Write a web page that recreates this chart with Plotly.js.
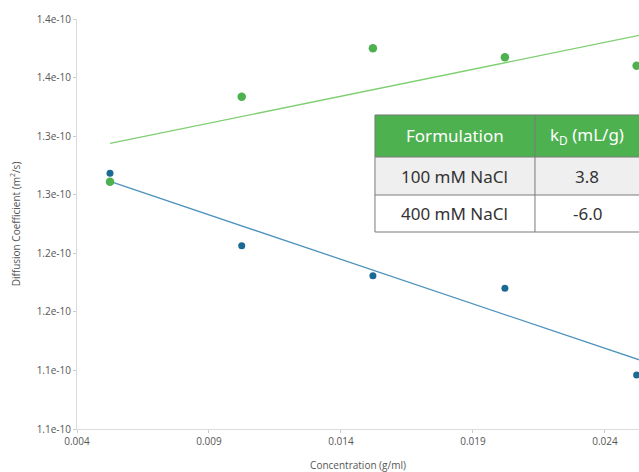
<!DOCTYPE html>
<html>
<head>
<meta charset="utf-8">
<script src="https://cdn.plot.ly/plotly-3.0.1.min.js"></script>
<style>html,body{margin:0;padding:0;background:#fff;}#chart{width:639px;height:472px;}</style>
</head>
<body>
<div id="chart"></div>
<script>
// Concentration (g/ml)
const concentration = [0.00525, 0.01024, 0.01521, 0.02021, 0.0252];
// Diffusion coefficients (m^2/s)
const diff100 = [1.3111e-10, 1.3837e-10, 1.4250e-10, 1.4173e-10, 1.4101e-10];
const diff400 = [1.3183e-10, 1.2565e-10, 1.2309e-10, 1.2201e-10, 1.1461e-10];
// Linear fit lines (read endpoints)
const fitX = [0.00525, 0.0253];
const fit100 = [1.3438e-10, 1.4360e-10];
const fit400 = [1.3113e-10, 1.1590e-10];
// Axis ticks
const yTickVals = [1.10e-10, 1.15e-10, 1.20e-10, 1.25e-10, 1.30e-10, 1.35e-10, 1.40e-10, 1.45e-10];
const yTickText = ['1.1e-10', '1.1e-10', '1.2e-10', '1.2e-10', '1.3e-10', '1.3e-10', '1.4e-10', '1.4e-10'];
const xTickVals = [0.004, 0.009, 0.014, 0.019, 0.024];
const xTickText = ['0.004', '0.009', '0.014', '0.019', '0.024'];
// Table contents
const tableHeader = ['Formulation', 'k<sub>D</sub> (mL/g)'];
const tableFormulation = ['100 mM NaCl', '400 mM NaCl'];
const tableKD = ['3.8', '-6.0'];

const green = '#4db14f';
const greenLine = '#7fcf72';
const blue = '#1b6a96';
const blueLine = '#4d93bd';

const traces = [
  {x: fitX, y: fit100, mode: 'lines', line: {color: greenLine, width: 1.3}, hoverinfo: 'skip'},
  {x: fitX, y: fit400, mode: 'lines', line: {color: blueLine, width: 1.3}, hoverinfo: 'skip'},
  {x: concentration, y: diff400, mode: 'markers', marker: {color: blue, size: 7}},
  {x: concentration, y: diff100, mode: 'markers', marker: {color: green, size: 8.5}}
];

// table geometry (paper coords)
const tx0 = 0.5302, tx1 = 0.8149, tx2 = 1.0;
const ty0 = 0.7659, ty1 = 0.6634, ty2 = 0.5707, ty3 = 0.4805;
const borderCol = '#7a7a7a';
const shapes = [
  {type: 'rect', xref: 'paper', yref: 'paper', x0: tx0, x1: tx2 + 0.02, y0: ty1, y1: ty0, fillcolor: green, line: {width: 0}, layer: 'above'},
  {type: 'rect', xref: 'paper', yref: 'paper', x0: tx0, x1: tx2 + 0.02, y0: ty2, y1: ty1, fillcolor: '#efefef', line: {width: 0}, layer: 'above'},
  {type: 'rect', xref: 'paper', yref: 'paper', x0: tx0, x1: tx2 + 0.02, y0: ty3, y1: ty2, fillcolor: '#ffffff', line: {width: 0}, layer: 'above'},
  {type: 'line', xref: 'paper', yref: 'paper', x0: tx0, x1: tx2 + 0.02, y0: ty0, y1: ty0, line: {color: borderCol, width: 1}, layer: 'above'},
  {type: 'line', xref: 'paper', yref: 'paper', x0: tx0, x1: tx2 + 0.02, y0: ty1, y1: ty1, line: {color: borderCol, width: 1}, layer: 'above'},
  {type: 'line', xref: 'paper', yref: 'paper', x0: tx0, x1: tx2 + 0.02, y0: ty2, y1: ty2, line: {color: borderCol, width: 1}, layer: 'above'},
  {type: 'line', xref: 'paper', yref: 'paper', x0: tx0, x1: tx2 + 0.02, y0: ty3, y1: ty3, line: {color: borderCol, width: 1.2}, layer: 'above'},
  {type: 'line', xref: 'paper', yref: 'paper', x0: tx0, x1: tx0, y0: ty3, y1: ty0, line: {color: borderCol, width: 1}, layer: 'above'},
  {type: 'line', xref: 'paper', yref: 'paper', x0: tx1, x1: tx1, y0: ty3, y1: ty0, line: {color: borderCol, width: 1}, layer: 'above'}
];
const tFont = '"Noto Sans", "Open Sans", sans-serif';
const c1 = (tx0 + tx1) / 2, c2 = 0.9075;
const rowsY = [(ty0 + ty1) / 2, (ty1 + ty2) / 2, (ty2 + ty3) / 2];
const annotations = [
  {text: tableHeader[0], x: c1, y: rowsY[0], font: {color: '#ffffff', size: 17, family: tFont}},
  {text: tableHeader[1], x: c2, y: rowsY[0], font: {color: '#ffffff', size: 17, family: tFont}},
  {text: tableFormulation[0], x: c1, y: rowsY[1], font: {color: '#333333', size: 17, family: tFont}},
  {text: tableKD[0], x: c2, y: rowsY[1], font: {color: '#333333', size: 17, family: tFont}},
  {text: tableFormulation[1], x: c1, y: rowsY[2], font: {color: '#333333', size: 17, family: tFont}},
  {text: tableKD[1], x: c2, y: rowsY[2], font: {color: '#333333', size: 17, family: tFont}}
].map(a => Object.assign({xref: 'paper', yref: 'paper', showarrow: false, xanchor: 'center', yanchor: 'middle'}, a));

const axFont = {family: '"Open Sans", "DejaVu Sans", sans-serif', size: 10, color: '#555555'};
const layout = {
  width: 639, height: 472,
  margin: {l: 77, r: 0, t: 19, b: 43},
  paper_bgcolor: '#ffffff', plot_bgcolor: '#ffffff',
  showlegend: false,
  font: axFont,
  xaxis: {
    range: [0.004, 0.02529],
    tickvals: xTickVals, ticktext: xTickText,
    showgrid: false, zeroline: false,
    showline: true, linecolor: '#dcdcdc', linewidth: 1,
    ticks: 'outside', ticklen: 3, tickcolor: '#cccccc',
    tickfont: axFont,
    title: {text: 'Concentration (g/ml)', font: axFont, standoff: 22}
  },
  yaxis: {
    range: [1.10e-10, 1.45e-10],
    tickvals: yTickVals, ticktext: yTickText,
    showgrid: false, zeroline: false,
    showline: true, linecolor: '#dcdcdc', linewidth: 1,
    ticks: 'outside', ticklen: 3, tickcolor: '#cccccc',
    tickfont: axFont,
    title: {text: 'Diffusion Coefficient (m<sup>2</sup>/s)', font: axFont, standoff: 14}
  },
  shapes: shapes,
  annotations: annotations
};

Plotly.newPlot('chart', traces, layout, {displayModeBar: false, staticPlot: true});
</script>
</body>
</html>
